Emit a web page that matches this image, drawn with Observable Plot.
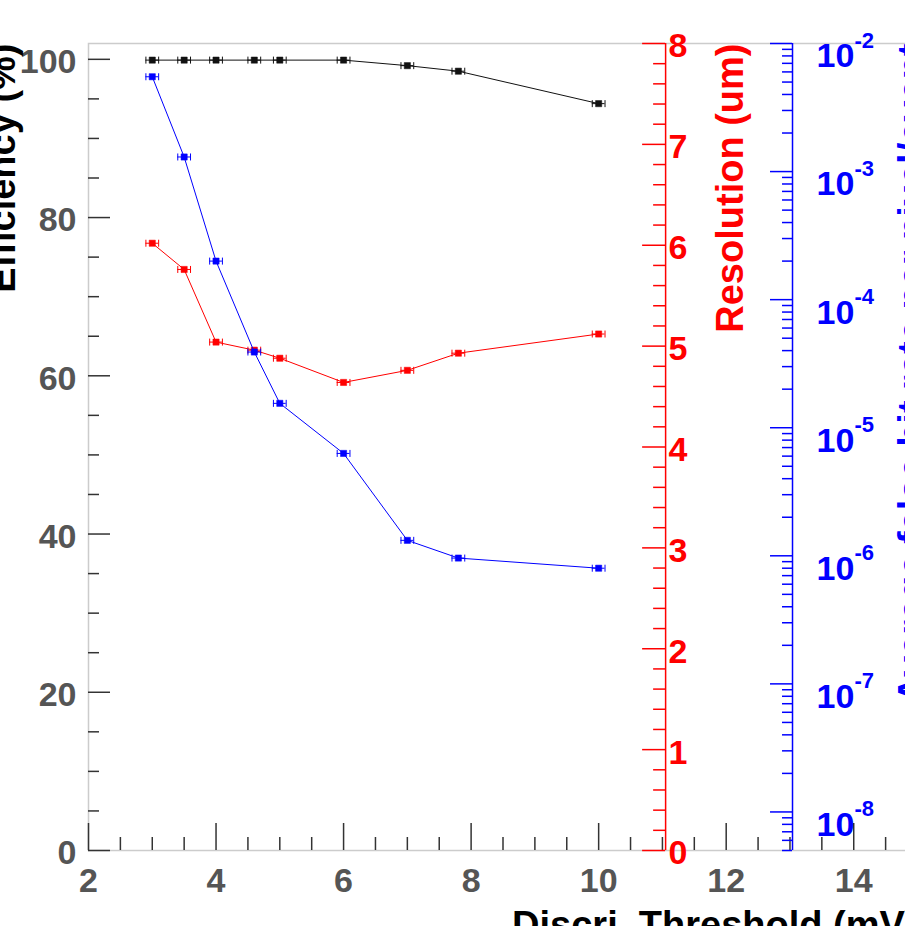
<!DOCTYPE html>
<html><head><meta charset="utf-8">
<script src="https://cdn.jsdelivr.net/npm/d3@7"></script>
<script src="https://cdn.jsdelivr.net/npm/@observablehq/plot@0.6"></script>
<style>
html,body{margin:0;padding:0;overflow:hidden;background:#fff;}
#chart{position:relative;width:940px;height:950px;}
#chart svg{position:absolute;left:0;top:0;max-width:none !important;background:transparent !important;}
</style></head><body><div id="chart"></div>
<script>
// ---- data ----
const thresholds = [3, 3.5, 4, 4.6, 5, 6, 7, 7.8, 10];          // mV
const xErr       = [0.1, 0.1, 0.1, 0.1, 0.1, 0.1, 0.1, 0.1, 0.1];
const efficiency = [99.9, 99.9, 99.9, 99.9, 99.9, 99.9, 99.2, 98.5, 94.4]; // %
const resolution = [6.02, 5.76, 5.04, 4.96, 4.88, 4.64, 4.76, 4.93, 5.12]; // um
const fakeRate   = [5.5e-3, 1.3e-3, 2.0e-4, 3.9e-5, 1.55e-5, 6.3e-6, 1.32e-6, 9.6e-7, 8.0e-7];

// axis ticks / labels
const xTickLabels  = [2, 4, 6, 8, 10, 12, 14];
const effTickLabels = [0, 20, 40, 60, 80, 100];
const resTickLabels = [0, 1, 2, 3, 4, 5, 6, 7, 8];
const rateExponents = [-8, -7, -6, -5, -4, -3, -2];
const redAxisAt  = 11.05;
const blueAxisAt = 13.04;

const xTitle   = "Discri. Threshold (mV)";
const effTitle = "Efficiency (%)";
const resTitle = "Resolution (um)";
const rateTitle = "Average false hit rate per pixel/event";

// ---- layout ----
const W = 940, H = 950, mL = 88, mR = 23, mT = 43, mB = 100;
const xDomain = [2, 15];
const plotW = W - mL - mR, plotH = H - mT - mB;
const k = plotW / (xDomain[1] - xDomain[0]); // px per mV
const font = "'Liberation Sans', Arial, Helvetica, sans-serif";

const rows = thresholds.map((t, i) => ({t, err: xErr[i], eff: efficiency[i], res: resolution[i], rate: fakeRate[i]}));

const capSymbol = {draw(ctx, size) { const h = Math.sqrt(size / Math.PI); ctx.moveTo(0, -h); ctx.lineTo(0, h); }};

function series(key, color) {
  return [
    Plot.line(rows, {x: "t", y: key, stroke: color, strokeWidth: 1}),
    Plot.ruleY(rows, {y: key, x1: d => d.t - d.err, x2: d => d.t + d.err, stroke: color, strokeWidth: 1}),
    Plot.dot(rows, {x: d => d.t - d.err, y: key, symbol: capSymbol, r: 3.5, stroke: color, fill: "none", strokeWidth: 1}),
    Plot.dot(rows, {x: d => d.t + d.err, y: key, symbol: capSymbol, r: 3.5, stroke: color, fill: "none", strokeWidth: 1}),
    Plot.dot(rows, {x: "t", y: key, symbol: "square", r: 3.5, fill: color, stroke: color, strokeWidth: 0.5})
  ];
}

const common = {
  width: W, height: H, marginLeft: mL, marginRight: mR, marginTop: mT, marginBottom: mB,
  style: {background: "transparent", maxWidth: "none", fontFamily: font, overflow: "hidden"},
  x: {domain: xDomain, axis: null}
};
const txt = {fontSize: 34, fontWeight: "bold", fontFamily: font};

// ---- layer 1: efficiency (left axis) ----
const effMinor = d3.range(0, 101, 5).filter(v => v % 20 !== 0);
const xMinor = d3.range(5, 30).map(i => i / 2).filter(v => v % 2 !== 0);
const xMajor = xTickLabels;

const p1 = Plot.plot({
  ...common,
  y: {domain: [0, 102], axis: null},
  marks: [
    Plot.frame({stroke: "#cccccc", strokeWidth: 1.5}),
    Plot.ruleY(effMinor, {insetRight: plotW - 11, stroke: "#333", strokeWidth: 1.5}),
    Plot.ruleY(effTickLabels, {insetRight: plotW - 22, stroke: "#333", strokeWidth: 1.5}),
    Plot.ruleX(xMinor, {insetTop: plotH - 13, stroke: "#333", strokeWidth: 1.5}),
    Plot.ruleX(xMajor, {insetTop: plotH - 27, stroke: "#333", strokeWidth: 1.5}),
    Plot.text(effTickLabels, {y: d => d, frameAnchor: "left", dx: -12, dy: 3, textAnchor: "end", fill: "#555", ...txt}),
    Plot.text(xTickLabels, {x: d => d, frameAnchor: "bottom", dy: 17, lineAnchor: "top", fill: "#555", ...txt}),
    Plot.text([effTitle], {frameAnchor: "top-left", dx: 14 - mL, rotate: -90, textAnchor: "end", lineAnchor: "bottom", fill: "#000", ...txt, fontSize: 38}),
    Plot.text([xTitle], {frameAnchor: "bottom-right", dy: 87, textAnchor: "end", lineAnchor: "bottom", fill: "#000", ...txt, fontSize: 38}),
    ...series("eff", "#111")
  ]
});

// ---- layer 2: resolution (red axis) ----
const resMinor = d3.range(0, 41).filter(i => i % 5 !== 0).map(i => i / 5);
const p2 = Plot.plot({
  ...common,
  y: {domain: [0, 8], axis: null},
  marks: [
    Plot.ruleX([redAxisAt], {stroke: "#ff0000", strokeWidth: 1.5}),
    Plot.ruleY(resMinor, {y: d => d, x1: () => redAxisAt - 12 / k, x2: () => redAxisAt, stroke: "#ff0000", strokeWidth: 1.5}),
    Plot.ruleY(resTickLabels, {y: d => d, x1: () => redAxisAt - 23 / k, x2: () => redAxisAt, stroke: "#ff0000", strokeWidth: 1.5}),
    Plot.text(resTickLabels, {x: () => redAxisAt, y: d => d, dx: 3, dy: 3, textAnchor: "start", fill: "#ff0000", ...txt}),
    Plot.text([resTitle], {x: () => redAxisAt, y: () => 8, dx: 77, rotate: -90, textAnchor: "end", lineAnchor: "bottom", fill: "#ff0000", ...txt, fontSize: 38}),
    ...series("res", "#ff0000")
  ]
});

// ---- layer 3: false hit rate (blue log axis) ----
const rateDomain = [5e-9, 1e-2];
const rateMinor = [];
for (let e = -9; e <= -3; e++) for (let m = 2; m <= 9; m++) {
  const v = m * Math.pow(10, e);
  if (v >= rateDomain[0] && v <= rateDomain[1]) rateMinor.push(v);
}
const p3 = Plot.plot({
  ...common,
  y: {type: "log", domain: rateDomain, axis: null},
  marks: [
    Plot.ruleX([blueAxisAt], {stroke: "#0000ff", strokeWidth: 1.5}),
    Plot.ruleY(rateMinor, {y: d => d, x1: () => blueAxisAt - 10 / k, x2: () => blueAxisAt, stroke: "#0000ff", strokeWidth: 1.5}),
    Plot.ruleY(rateExponents, {y: e => Math.pow(10, e), x1: () => blueAxisAt - 22 / k, x2: () => blueAxisAt, stroke: "#0000ff", strokeWidth: 1.5}),
    Plot.text(rateExponents, {x: () => blueAxisAt, y: e => Math.pow(10, e), text: () => "10", dx: 24, dy: 13, textAnchor: "start", fill: "#0000ff", ...txt}),
    Plot.text(rateExponents, {x: () => blueAxisAt, y: e => Math.pow(10, e), text: e => String(e), dx: 62, dy: -3, textAnchor: "start", fill: "#0000ff", ...txt, fontSize: 22}),
    Plot.text([rateTitle], {x: () => blueAxisAt, y: () => rateDomain[1], dx: 132, rotate: -90, textAnchor: "end", lineAnchor: "bottom", fill: "#0000ff", ...txt, fontSize: 38}),
    ...series("rate", "#0000ff")
  ]
});

const chart = document.getElementById("chart");
chart.append(p1, p2, p3);
</script></body></html>
